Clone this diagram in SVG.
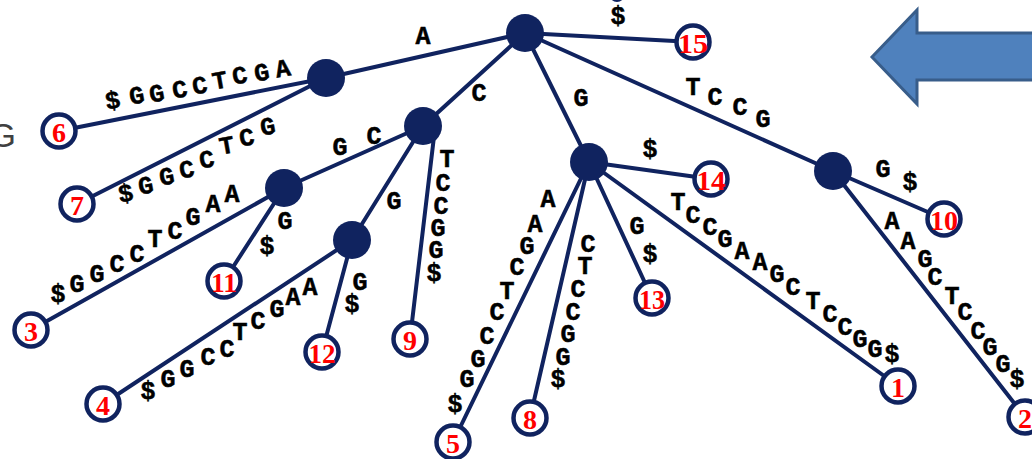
<svg xmlns="http://www.w3.org/2000/svg" width="1032" height="459" viewBox="0 0 1032 459">
<style>
.e{stroke:#10235f;stroke-width:4;fill:none;stroke-linecap:round}
.in{fill:#10235f}
.lf{fill:#fff;stroke:#10235f;stroke-width:4.5}
.n{font-family:"Liberation Serif","Times New Roman",serif;font-weight:bold;font-size:28px;fill:#ff0000;text-anchor:middle;dominant-baseline:central}
.l{font-family:"Liberation Mono","Courier New",monospace;font-weight:bold;font-size:25px;fill:#000;stroke:#000;stroke-width:0.5;text-anchor:middle;dominant-baseline:central}
</style>
<rect width="1032" height="459" fill="#fff"/>
<text x="16" y="147" font-family="Liberation Sans, Arial, sans-serif" font-size="34" fill="#404040" text-anchor="end">G</text>
<ellipse cx="617" cy="-15" rx="11" ry="17" class="in"/>
<path d="M872,57 L917,10 L917,33 L1040,33 L1040,80 L917,80 L917,104 Z" fill="#4f81bd" stroke="#385d8a" stroke-width="3"/>
<g id="connectors">
<line class="e" x1="525" y1="33" x2="326" y2="78"/>
<line class="e" x1="525" y1="33" x2="423" y2="126"/>
<line class="e" x1="525" y1="33" x2="589" y2="162"/>
<line class="e" x1="525" y1="33" x2="833" y2="171"/>
<line class="e" x1="525" y1="33" x2="693" y2="42"/>
<line class="e" x1="326" y1="78" x2="59" y2="131"/>
<line class="e" x1="326" y1="78" x2="77" y2="204"/>
<line class="e" x1="423" y1="126" x2="284" y2="188"/>
<line class="e" x1="423" y1="126" x2="352" y2="240"/>
<line class="e" x1="435" y1="128" x2="410" y2="339"/>
<line class="e" x1="284" y1="188" x2="31" y2="330"/>
<line class="e" x1="284" y1="188" x2="224" y2="281"/>
<line class="e" x1="352" y1="240" x2="103" y2="404"/>
<line class="e" x1="352" y1="240" x2="322" y2="352"/>
<line class="e" x1="589" y1="162" x2="453" y2="442"/>
<line class="e" x1="589" y1="162" x2="530" y2="418"/>
<line class="e" x1="589" y1="162" x2="652" y2="298"/>
<line class="e" x1="589" y1="162" x2="898" y2="386"/>
<line class="e" x1="589" y1="162" x2="711" y2="179"/>
<line class="e" x1="833" y1="171" x2="944" y2="219"/>
<line class="e" x1="833" y1="171" x2="1025" y2="417"/>
</g>
<g id="edge-labels">
<text class="l" x="618" y="17">$</text>
<text class="l" x="423" y="37">A</text>
<text class="l" x="479" y="94">C</text>
<text class="l" x="581" y="99">G</text>
<text class="l" x="650" y="150">$</text>
<text class="l" x="113" y="102" transform="rotate(-10 113 102)">$</text>
<text class="l" x="137" y="97" transform="rotate(-10 137 97)">G</text>
<text class="l" x="157" y="95" transform="rotate(-10 157 95)">G</text>
<text class="l" x="180" y="91" transform="rotate(-10 180 91)">C</text>
<text class="l" x="200" y="87" transform="rotate(-10 200 87)">C</text>
<text class="l" x="220" y="82" transform="rotate(-10 220 82)">T</text>
<text class="l" x="240" y="77" transform="rotate(-10 240 77)">C</text>
<text class="l" x="262" y="74" transform="rotate(-10 262 74)">G</text>
<text class="l" x="283" y="70" transform="rotate(-10 283 70)">A</text>
<text class="l" x="126" y="195" transform="rotate(-10 126 195)">$</text>
<text class="l" x="146" y="187" transform="rotate(-10 146 187)">G</text>
<text class="l" x="167" y="178" transform="rotate(-10 167 178)">G</text>
<text class="l" x="187" y="171" transform="rotate(-10 187 171)">C</text>
<text class="l" x="207" y="161" transform="rotate(-10 207 161)">C</text>
<text class="l" x="227" y="147" transform="rotate(-10 227 147)">T</text>
<text class="l" x="247" y="139" transform="rotate(-10 247 139)">C</text>
<text class="l" x="268" y="128" transform="rotate(-10 268 128)">G</text>
<text class="l" x="340" y="148">G</text>
<text class="l" x="374" y="137">C</text>
<text class="l" x="394" y="202">G</text>
<text class="l" x="447" y="160">T</text>
<text class="l" x="443" y="184">C</text>
<text class="l" x="441" y="207">C</text>
<text class="l" x="438" y="229">G</text>
<text class="l" x="436" y="251">G</text>
<text class="l" x="434" y="274">$</text>
<text class="l" x="58" y="295">$</text>
<text class="l" x="77" y="285">G</text>
<text class="l" x="97" y="275">G</text>
<text class="l" x="117" y="265">C</text>
<text class="l" x="137" y="255">C</text>
<text class="l" x="155" y="240">T</text>
<text class="l" x="175" y="232">C</text>
<text class="l" x="193" y="218">G</text>
<text class="l" x="213" y="205">A</text>
<text class="l" x="232" y="195">A</text>
<text class="l" x="285" y="222">G</text>
<text class="l" x="267" y="247">$</text>
<text class="l" x="148" y="392">$</text>
<text class="l" x="168" y="380">G</text>
<text class="l" x="187" y="370">G</text>
<text class="l" x="208" y="358">C</text>
<text class="l" x="227" y="350">C</text>
<text class="l" x="240" y="333">T</text>
<text class="l" x="258" y="322">C</text>
<text class="l" x="277" y="310">G</text>
<text class="l" x="293" y="298">A</text>
<text class="l" x="310" y="288">A</text>
<text class="l" x="360" y="283">G</text>
<text class="l" x="352" y="305">$</text>
<text class="l" x="548" y="200">A</text>
<text class="l" x="535" y="225">A</text>
<text class="l" x="527" y="247">G</text>
<text class="l" x="517" y="268">C</text>
<text class="l" x="507" y="292">T</text>
<text class="l" x="497" y="313">C</text>
<text class="l" x="487" y="337">C</text>
<text class="l" x="478" y="360">G</text>
<text class="l" x="467" y="380">G</text>
<text class="l" x="455" y="405">$</text>
<text class="l" x="588" y="245">C</text>
<text class="l" x="585" y="267">T</text>
<text class="l" x="578" y="290">C</text>
<text class="l" x="573" y="313">C</text>
<text class="l" x="568" y="335">G</text>
<text class="l" x="563" y="358">G</text>
<text class="l" x="558" y="380">$</text>
<text class="l" x="637" y="227">G</text>
<text class="l" x="650" y="255">$</text>
<text class="l" x="678" y="203">T</text>
<text class="l" x="693" y="216">C</text>
<text class="l" x="710" y="228">C</text>
<text class="l" x="725" y="240">G</text>
<text class="l" x="742" y="252">A</text>
<text class="l" x="760" y="263">A</text>
<text class="l" x="777" y="275">G</text>
<text class="l" x="793" y="288">C</text>
<text class="l" x="813" y="302">T</text>
<text class="l" x="830" y="315">C</text>
<text class="l" x="845" y="328">C</text>
<text class="l" x="860" y="340">G</text>
<text class="l" x="875" y="350">G</text>
<text class="l" x="892" y="355">$</text>
<text class="l" x="693" y="88">T</text>
<text class="l" x="715" y="98">C</text>
<text class="l" x="740" y="108">C</text>
<text class="l" x="763" y="120">G</text>
<text class="l" x="883" y="170">G</text>
<text class="l" x="910" y="183">$</text>
<text class="l" x="892" y="222">A</text>
<text class="l" x="908" y="242">A</text>
<text class="l" x="925" y="260">G</text>
<text class="l" x="935" y="278">C</text>
<text class="l" x="952" y="297">T</text>
<text class="l" x="965" y="313">C</text>
<text class="l" x="978" y="332">C</text>
<text class="l" x="990" y="348">G</text>
<text class="l" x="1003" y="365">G</text>
<text class="l" x="1017" y="380">$</text>
</g>
<g id="root"><circle class="in" cx="525" cy="33" r="19"/></g>
<g id="nA"><circle class="in" cx="326" cy="78" r="19"/></g>
<g id="nC"><circle class="in" cx="423" cy="126" r="19"/></g>
<g id="nG"><circle class="in" cx="589" cy="162" r="19"/></g>
<g id="nT"><circle class="in" cx="833" cy="171" r="19"/></g>
<g id="nCG"><circle class="in" cx="284" cy="188" r="19"/></g>
<g id="nCG2"><circle class="in" cx="352" cy="240" r="19"/></g>
<g id="leaf6"><circle class="lf" cx="59" cy="131" r="16.5"/><text class="n" x="59" y="132">6</text></g>
<g id="leaf7"><circle class="lf" cx="77" cy="204" r="16.5"/><text class="n" x="77" y="205">7</text></g>
<g id="leaf15"><circle class="lf" cx="693" cy="42" r="16.5"/><text class="n" x="693" y="43" textLength="30" lengthAdjust="spacingAndGlyphs">15</text></g>
<g id="leaf14"><circle class="lf" cx="711" cy="179" r="16.5"/><text class="n" x="711" y="180" textLength="29" lengthAdjust="spacingAndGlyphs">14</text></g>
<g id="leaf10"><circle class="lf" cx="944" cy="219" r="16.5"/><text class="n" x="944" y="220" textLength="28" lengthAdjust="spacingAndGlyphs">10</text></g>
<g id="leaf1"><circle class="lf" cx="898" cy="386" r="16.5"/><text class="n" x="898" y="387">1</text></g>
<g id="leaf2"><circle class="lf" cx="1025" cy="417" r="16.5"/><text class="n" x="1025" y="418">2</text></g>
<g id="leaf13"><circle class="lf" cx="652" cy="298" r="16.5"/><text class="n" x="652" y="299" textLength="26" lengthAdjust="spacingAndGlyphs">13</text></g>
<g id="leaf8"><circle class="lf" cx="530" cy="418" r="16.5"/><text class="n" x="530" y="419">8</text></g>
<g id="leaf5"><circle class="lf" cx="453" cy="442" r="16.5"/><text class="n" x="453" y="443">5</text></g>
<g id="leaf9"><circle class="lf" cx="410" cy="339" r="16.5"/><text class="n" x="410" y="340">9</text></g>
<g id="leaf12"><circle class="lf" cx="322" cy="352" r="16.5"/><text class="n" x="322" y="353" textLength="27" lengthAdjust="spacingAndGlyphs">12</text></g>
<g id="leaf11"><circle class="lf" cx="224" cy="281" r="16.5"/><text class="n" x="224" y="282" textLength="26" lengthAdjust="spacingAndGlyphs">11</text></g>
<g id="leaf3"><circle class="lf" cx="31" cy="330" r="16.5"/><text class="n" x="31" y="331">3</text></g>
<g id="leaf4"><circle class="lf" cx="103" cy="404" r="16.5"/><text class="n" x="103" y="405">4</text></g>
</svg>
